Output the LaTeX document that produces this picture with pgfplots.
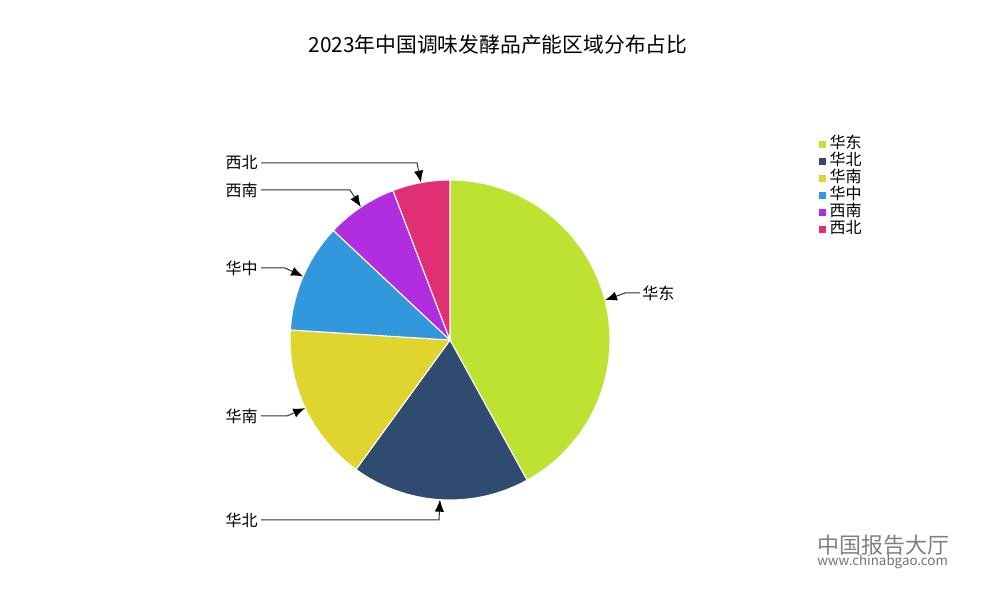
\documentclass[border=0pt]{standalone}
\usepackage{pgfplots}
\pgfplotsset{compat=1.18}
\usepackage{pgfplotstable}
\usepackage{fontspec}
\setmainfont{Noto Sans CJK SC}
\usetikzlibrary{arrows.meta}

\definecolor{cHD}{HTML}{BDE232}
\definecolor{cHB}{HTML}{2F4C70}
\definecolor{cHN}{HTML}{E0D42E}
\definecolor{cHZ}{HTML}{3298DE}
\definecolor{cXN}{HTML}{B12DE0}
\definecolor{cXB}{HTML}{E03073}
\definecolor{lineC}{HTML}{333333}

% share (%) of capacity by region, clockwise from 12 o'clock
\pgfplotstableread{
name value color
华东 42 cHD
华北 18 cHB
华南 16 cHN
华中 11 cHZ
西南 7.2 cXN
西北 5.8 cXB
}\piedata

\begin{document}
\begin{tikzpicture}
\begin{axis}[
  x=0.75pt, y=0.75pt,
  xmin=0, xmax=1000, ymin=0, ymax=600,
  scale only axis, axis lines=none, clip=false,
  legend style={draw=none, fill=none, at={(axis cs:819,464)}, anchor=north west,
    inner sep=0pt, row sep=0pt,
    font=\fontsize{12}{12}\selectfont,
    nodes={text height=9.2pt, text depth=3.3pt, inner xsep=0.5pt, inner ysep=0.1pt}},
  legend cell align=left,
  legend image code/.code={\fill[#1, draw=none] (0pt,-2.6pt) rectangle (5.2pt,2.6pt);},
]
\path (axis cs:0,0) rectangle (axis cs:1000,600);

\def\cum{0}
\pgfplotsforeachungrouped \i in {0,...,5} {
  \pgfplotstablegetelem{\i}{value}\of\piedata \let\v=\pgfplotsretval
  \pgfplotstablegetelem{\i}{color}\of\piedata \let\c=\pgfplotsretval
  \pgfmathsetmacro\a{90-3.6*\cum}
  \pgfmathsetmacro\b{90-3.6*(\cum+\v)}
  \pgfmathsetmacro\m{90-3.6*(\cum+\v/2)}
  \pgfmathsetmacro\tx{450+160*cos(\m)}
  \pgfmathsetmacro\ty{260+160*sin(\m)}
  \expandafter\xdef\csname tip\i\endcsname{\tx,\ty}
  \edef\cmd{\noexpand\filldraw[fill=\c, draw=white, line width=0.8pt, line join=round]
    (axis cs:450,260) -- ([shift={(\a:120pt)}]axis cs:450,260)
    arc[start angle=\a, end angle=\b, radius=120pt] -- cycle;}
  \cmd
  \pgfmathsetmacro\cum{\cum+\v}
}

% leader lines with labels
\tikzset{lead/.style={draw=lineC, line width=0.75pt, -{Latex[length=9pt,width=7pt,black]}}}
\draw[lead] (axis cs:640,307) -- (axis cs:625,307) -- (axis cs:\csname tip0\endcsname);
\draw[lead] (axis cs:261,80) -- (axis cs:439,80) -- (axis cs:\csname tip1\endcsname);
\draw[lead] (axis cs:261,184) -- (axis cs:287,184) -- (axis cs:\csname tip2\endcsname);
\draw[lead] (axis cs:261,332) -- (axis cs:285,332) -- (axis cs:\csname tip3\endcsname);
\draw[lead] (axis cs:261,410) -- (axis cs:350,410) -- (axis cs:\csname tip4\endcsname);
\draw[lead] (axis cs:261,437) -- (axis cs:417,437) -- (axis cs:\csname tip5\endcsname);

\tikzset{lab/.style={font=\fontsize{12}{12}\selectfont, inner sep=0pt, text=black}}
\node[lab, anchor=west] at (axis cs:642,307) {华东};
\node[lab, anchor=east] at (axis cs:258,80) {华北};
\node[lab, anchor=east] at (axis cs:258,184) {华南};
\node[lab, anchor=east] at (axis cs:258,332) {华中};
\node[lab, anchor=east] at (axis cs:258,410) {西南};
\node[lab, anchor=east] at (axis cs:258,437) {西北};

% title
\node[font=\fontsize{15.6}{15.6}\selectfont, anchor=center] at (axis cs:498,555) {2023年中国调味发酵品产能区域分布占比};

% watermark
\node[font=\fontsize{16.5}{16.5}\selectfont, text=black!50, anchor=west, inner sep=0pt] at (axis cs:817,55) {中国报告大厅};
\node[font=\fontsize{10}{10}\selectfont, text=black!55, anchor=west, inner sep=0pt] at (axis cs:817,38) {www.chinabgao.com};

% legend
\addlegendimage{fill=cHD}\addlegendentry{\,华东}
\addlegendimage{fill=cHB}\addlegendentry{\,华北}
\addlegendimage{fill=cHN}\addlegendentry{\,华南}
\addlegendimage{fill=cHZ}\addlegendentry{\,华中}
\addlegendimage{fill=cXN}\addlegendentry{\,西南}
\addlegendimage{fill=cXB}\addlegendentry{\,西北}
\end{axis}
\end{tikzpicture}
\end{document}
